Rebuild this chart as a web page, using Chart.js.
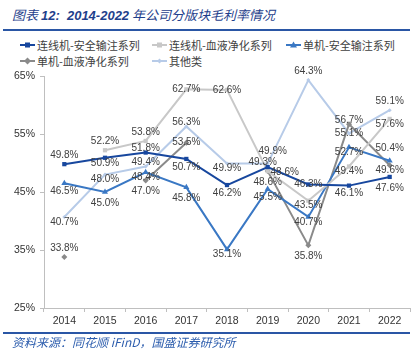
<!DOCTYPE html>
<html>
<head>
<meta charset="utf-8">
<script src="https://cdn.jsdelivr.net/npm/chart.js@4.4.0/dist/chart.umd.min.js"></script>
<style>
html,body{margin:0;padding:0;background:#fff;}
#wrap{position:relative;width:419px;height:351px;overflow:hidden;font-family:"Noto Sans CJK SC",sans-serif;}
#cv{position:absolute;left:0;top:0;}
.title{position:absolute;left:12px;top:6px;font-size:13px;line-height:17px;color:#1f3f8c;font-style:italic;white-space:nowrap;}
.title b{font-family:"Liberation Sans",sans-serif;font-weight:bold;}
.rule{position:absolute;left:3px;width:407px;height:2px;background:#2a56a5;}
.src{position:absolute;left:12px;top:334px;font-size:12px;line-height:16px;color:#2b5cad;font-style:italic;white-space:nowrap;}
.leg{position:absolute;font-size:11px;line-height:14px;color:#404040;white-space:nowrap;display:flex;align-items:center;}
.leg svg{margin-right:2px;}
</style>
</head>
<body>
<div id="wrap">
 <div class="title">图表 <b>12:&nbsp; 2014-2022</b> 年公司分版块毛利率情况</div>
 <div class="rule" style="top:29px"></div>
 <div id="legend"></div>
 <canvas id="cv" width="419" height="351"></canvas>
 <div class="rule" style="top:332px"></div>
 <div class="src">资料来源：同花顺 iFinD，国盛证券研究所</div>
</div>
<script>
/* ---------------- data ---------------- */
const YEARS=["2014","2015","2016","2017","2018","2019","2020","2021","2022"];
const LX_SAFE=[49.8,50.9,51.8,50.7,46.2,49.3,46.3,46.1,47.6];      // 连线机-安全输注系列
const LX_BLOOD=[null,52.2,53.8,62.7,62.6,48.6,43.5,49.4,57.6];     // 连线机-血液净化系列
const DJ_SAFE=[46.5,45.0,48.4,45.8,35.1,45.5,40.7,52.7,50.4];      // 单机-安全输注系列
const DJ_BLOOD=[33.8,null,47.0,53.5,null,48.6,35.8,56.7,49.6];     // 单机-血液净化系列
const OTHER=[40.7,48.0,49.4,56.3,49.9,49.9,64.3,55.1,59.1];        // 其他类
const Y_TICKS=[25,35,45,55,65];

/* label placement per point (see POS_OFFSET) */
const POS_LX_SAFE=["a","d","u","b","b","L","c","b","B"];
const POS_LX_BLOOD=["","a","a","c","c","r","d","d","d"];
const POS_DJ_SAFE=["b","B","d","B","d","b","d","d","A"];
const POS_DJ_BLOOD=["a","","B","c","","B","B","u","d"];
const POS_OTHER=["d","d","u","u","d","R","a","c","a"];
const POS_OFFSET={A:[0,-12],a:[0,-9],u:[0,-4],c:[0,0],d:[0,5],b:[0,8],B:[0,11],r:[17,1],L:[-5,-5],R:[5,-12]};

const SERIES=[
 {label:"连线机-安全输注系列",data:LX_SAFE,pos:POS_LX_SAFE,color:"#17479e",style:"rect",r:3},
 {label:"连线机-血液净化系列",data:LX_BLOOD,pos:POS_LX_BLOOD,color:"#c8c8c8",style:"rect",r:3},
 {label:"单机-安全输注系列",data:DJ_SAFE,pos:POS_DJ_SAFE,color:"#3a78c4",style:"triangle",r:3.5},
 {label:"单机-血液净化系列",data:DJ_BLOOD,pos:POS_DJ_BLOOD,color:"#8a8a8a",style:"rectRot",r:3},
 {label:"其他类",data:OTHER,pos:POS_OTHER,color:"#b7cbe8",style:"rectRot",r:2}
];

/* ---------------- legend (html) ---------------- */
function marker(s){
 const c=s.color;
 if(s.style==="rect")return `<rect x="5" y="2.5" width="5" height="5" fill="${c}"/>`;
 if(s.style==="triangle")return `<path d="M7.5,1.5 L11,7.5 L4,7.5Z" fill="${c}"/>`;
 const r=s.r+0.5;return `<path d="M7.5,${5-r} L${7.5+r},5 L7.5,${5+r} L${7.5-r},5Z" fill="${c}"/>`;
}
const LEG_AT=[[20,38],[152,38],[286,38],[20,54],[152,54]];
document.getElementById("legend").innerHTML=SERIES.map((s,i)=>
 `<div class="leg" style="left:${LEG_AT[i][0]}px;top:${LEG_AT[i][1]}px"><svg width="15" height="10"><line x1="0" y1="5" x2="15" y2="5" stroke="${s.color}" stroke-width="2"/>${marker(s)}</svg>${s.label}</div>`).join("");

/* ---------------- value labels ---------------- */
const valueLabels={id:"valueLabels",afterDatasetsDraw(chart){
 const ctx=chart.ctx;ctx.save();
 ctx.font='10px "Liberation Sans"';ctx.fillStyle="#404040";ctx.textAlign="center";ctx.textBaseline="middle";
 chart.data.datasets.forEach((ds,i)=>{
  const meta=chart.getDatasetMeta(i);
  meta.data.forEach((pt,j)=>{
   const v=ds.data[j];if(v==null)return;
   const o=POS_OFFSET[SERIES[i].pos[j]]||[0,0];
   ctx.fillText(v.toFixed(1)+"%",pt.x+o[0],pt.y+o[1]);
  });
 });
 ctx.restore();
}};

/* ---------------- chart ---------------- */
const AXIS="#bfbfbf";
new Chart(document.getElementById("cv"),{
 type:"line",
 data:{labels:YEARS,datasets:SERIES.map(s=>({
  label:s.label,data:s.data,borderColor:s.color,backgroundColor:s.color,borderWidth:2,
  pointStyle:s.style,pointRadius:s.r,pointHoverRadius:s.r,pointBorderWidth:0,tension:0,spanGaps:false}))},
 options:{
  responsive:false,animation:false,
  layout:{padding:{left:0,right:9,top:76,bottom:13}},
  plugins:{legend:{display:false},tooltip:{enabled:false}},
  scales:{
   x:{offset:true,
    grid:{offset:true,drawOnChartArea:false,tickLength:4,color:AXIS},
    border:{color:AXIS,width:1},
    ticks:{color:"#333",font:{family:"Liberation Sans",size:10.5},padding:3,maxRotation:0},
    afterFit(s){s.height=30;}},
   y:{min:25,max:65,
    afterBuildTicks(s){s.ticks=Y_TICKS.map(v=>({value:v}));},
    grid:{drawOnChartArea:false,tickLength:4,color:AXIS},
    border:{color:AXIS,width:1},
    ticks:{color:"#333",font:{family:"Liberation Sans",size:10.5},padding:5,callback:v=>v+"%"},
    afterFit(s){s.width=44;}}
  }
 },
 plugins:[valueLabels]
});
</script>
</body>
</html>
